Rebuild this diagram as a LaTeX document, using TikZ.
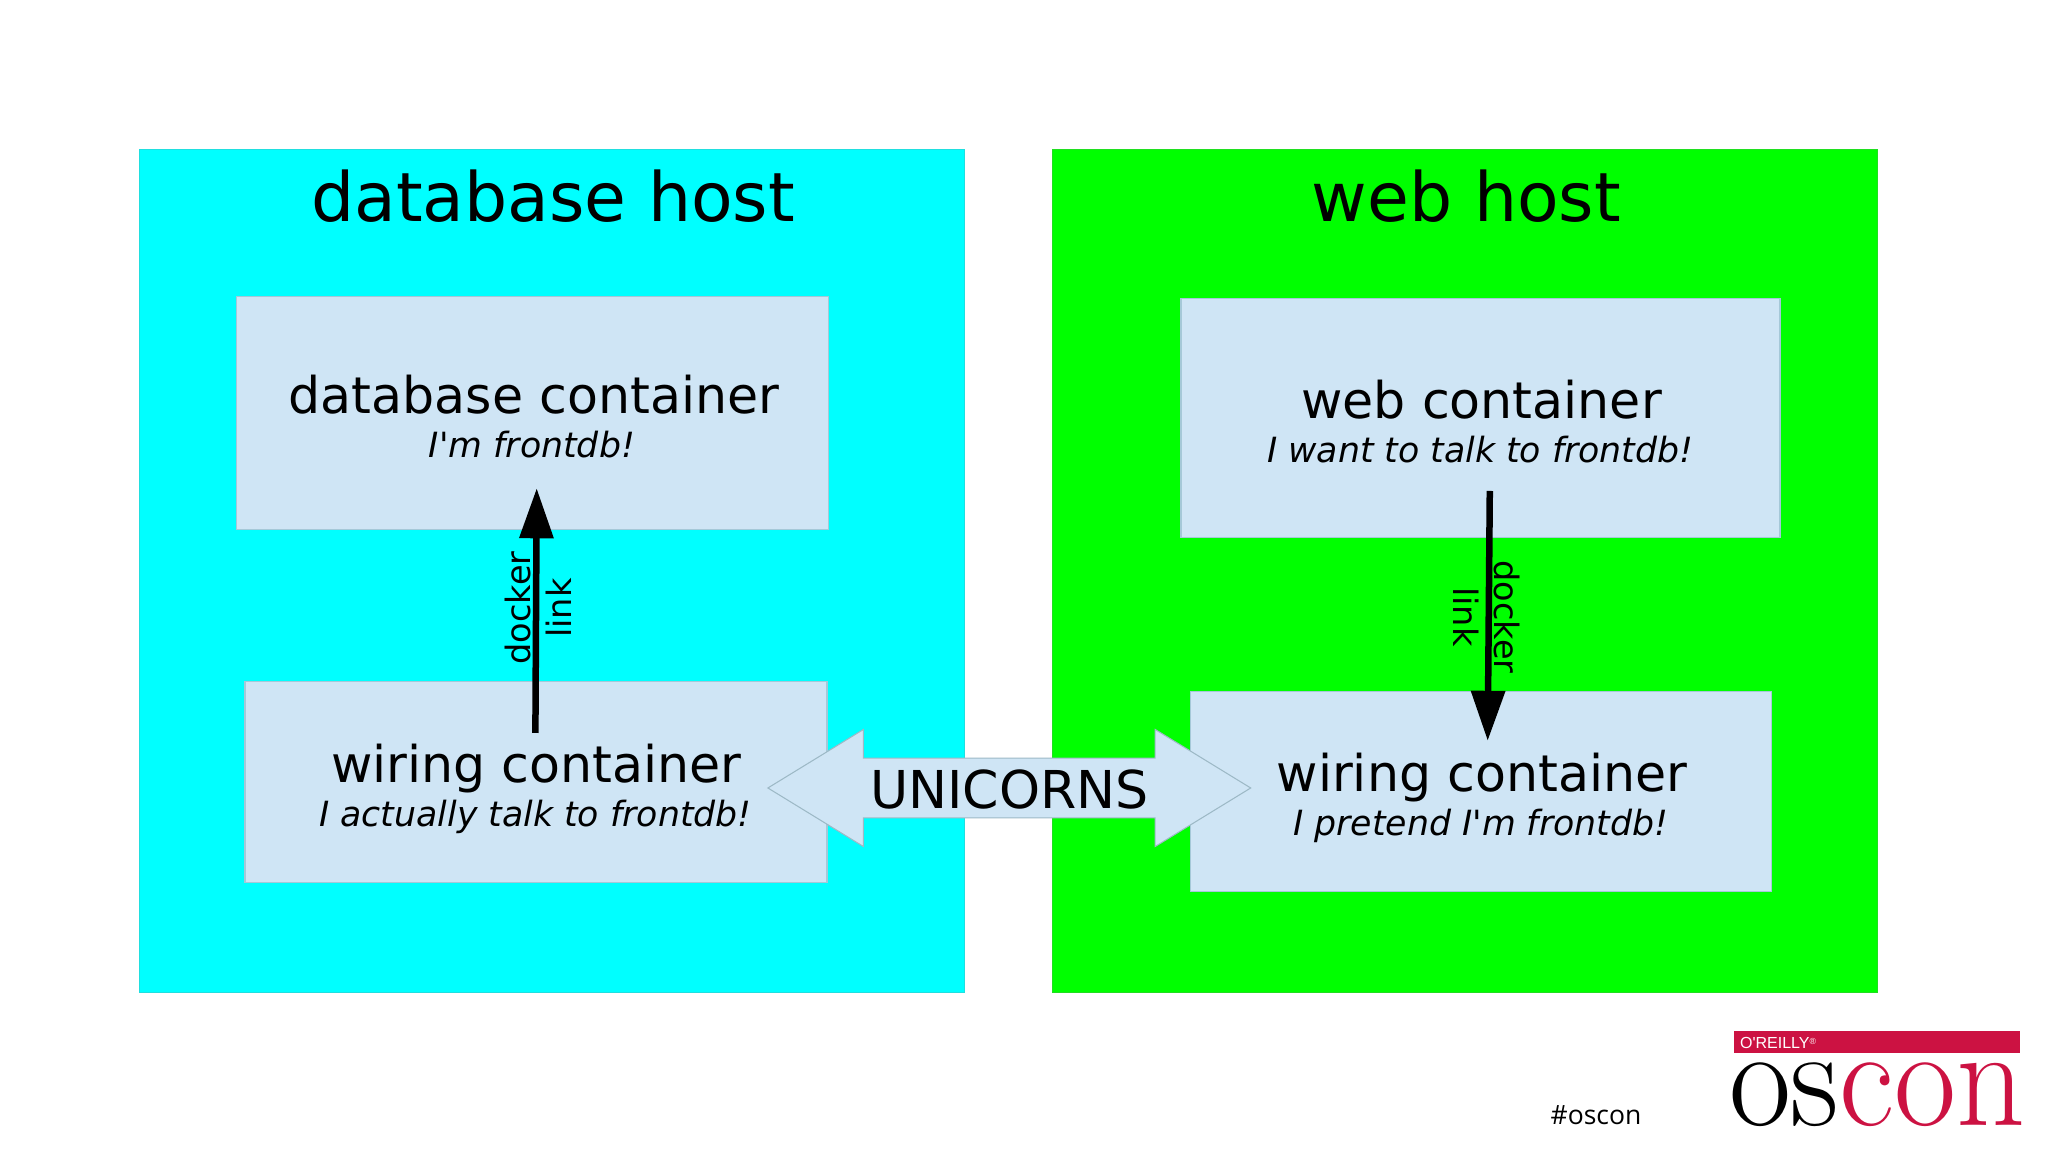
\documentclass[tikz,border=0pt]{standalone}
\usepackage{fontspec}
\setsansfont[Ligatures=TeXOff]{DejaVu Sans}
\newfontfamily\tagfont{Open Sans}
\newfontfamily\brandfont{Liberation Sans}
\usetikzlibrary{arrows.meta,shapes.arrows}
\definecolor{boxblue}{HTML}{CFE5F5}
\definecolor{boxline}{HTML}{A5C8D8}
\definecolor{brandred}{HTML}{CC1242}
\definecolor{dbcyan}{HTML}{00FFFF}
\definecolor{webgreen}{HTML}{00FF00}
\begin{document}
\begin{tikzpicture}
	\tikzset{hostbox/.style={rectangle, inner sep=0, minimum width=8.25cm, minimum height=8.43cm, line width=0.3pt},
		contbox/.style={rectangle, inner sep=0, fill=boxblue, draw=boxline, line width=0.3pt},
		hosttitle/.style={anchor=base, inner sep=0, font=\sffamily\fontsize{19.35}{23}\selectfont},
		conthead/.style={anchor=base, inner sep=0, font=\sffamily\fontsize{14.4}{17}\selectfont},
		contsub/.style={anchor=base, inner sep=0, font=\sffamily\itshape\fontsize{9.88}{12}\selectfont},
		linklabel/.style={inner sep=0, align=center, font=\sffamily\fontsize{9.55}{11.67}\selectfont},
		linkarrow/.style={line width=0.065cm, -{Triangle[length=0.5cm,width=0.33cm]}}}
	\useasboundingbox (0,0) rectangle (20.48,11.52);

	% Hosts
	\node[hostbox, fill=dbcyan, draw=dbcyan!75!gray] at (5.52, 5.81) (dbhost) {};
	\node[hostbox, fill=webgreen, draw=webgreen!75!gray] at (14.65, 5.81) (webhost) {};
	\node[hosttitle] at (5.532, 9.303) (dbtitle) {database host};
	\node[hosttitle] at (14.664, 9.303) (webtitle) {web host};

	% Containers
	\node[contbox, minimum width=5.92cm, minimum height=2.33cm] at (5.328, 7.39) (dbcont) {};
	\node[contbox, minimum width=5.99cm, minimum height=2.39cm] at (14.805, 7.338) (webcont) {};
	\node[contbox, minimum width=5.82cm, minimum height=2.01cm] at (5.36, 3.698) (wireleft) {};
	\node[contbox, minimum width=5.815cm, minimum height=2.003cm] at (14.808, 3.602) (wireright) {};

	\node[conthead] at (5.34, 7.387) (dbhead) {database container};
	\node[contsub] at (5.32, 6.947) (dbsub) {I'm frontdb!};
	\node[conthead] at (14.816, 7.337) (webhead) {web container};
	\node[contsub] at (14.803, 6.897) (websub) {I want to talk to frontdb!};
	\node[conthead] at (5.365, 3.697) (lefthead) {wiring container};
	\node[contsub] at (5.354, 3.253) (leftsub) {I actually talk to frontdb!};
	\node[conthead] at (14.819, 3.603) (righthead) {wiring container};
	\node[contsub] at (14.808, 3.16) (rightsub) {I pretend I'm frontdb!};

	% Docker links
	\coordinate (leftfrom) at (5.354, 4.19);
	\coordinate (leftto) at (5.367, 6.637);
	\coordinate (rightfrom) at (14.898, 6.61);
	\coordinate (rightto) at (14.877, 4.112);
	\draw [linkarrow] (leftfrom) -- (leftto);
	\draw [linkarrow] (rightfrom) -- (rightto);
	\node[linklabel, rotate=90] at (5.38, 5.44) (leftlabel) {docker\\link};
	\node[linklabel, rotate=-90] at (14.87, 5.35) (rightlabel) {docker\\link};

	% Tunnel between hosts
	\node[double arrow, fill=boxblue, draw=boxline!80!gray, line width=0.3pt,
		double arrow tip angle=63, double arrow head extend=0.287cm,
		minimum height=4.828cm, inner xsep=0, inner ysep=0, text height=0.503cm, text depth=0.083cm,
		font=\sffamily\fontsize{14.85}{17}\selectfont] at (10.093, 3.64) (tunnel) {UNICORNS};

	% Logo
	\node[rectangle, inner sep=0, fill=brandred, minimum width=2.86cm, minimum height=0.226cm] at (18.768, 1.10) (brandbar) {};
	\node[anchor=base west, inner sep=0, text=white, font=\brandfont\fontsize{4.55}{5}\selectfont] at (17.394, 1.037) (brandname) {O'REILLY\raisebox{0.5ex}{\fontsize{2.5}{3}\selectfont ®}};
	\node[anchor=base, inner sep=0, font=\tagfont\fontsize{7.54}{9}\selectfont] at (15.96, 0.27) (hashtag) {\#oscon};
	\node[anchor=base, inner sep=0, xscale=0.95, transform shape, font=\rmfamily\fontsize{40.4}{44}\selectfont] at (18.77, 0.265) (brandlogo) {os\textcolor{brandred}{con}};
\end{tikzpicture}
\end{document}
